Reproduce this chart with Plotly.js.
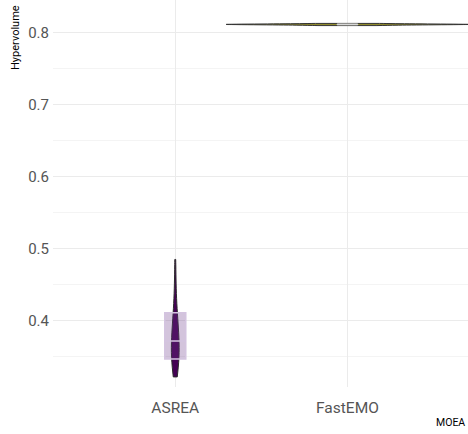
<!DOCTYPE html>
<html>
<head>
<meta charset="utf-8">
<script src="https://cdn.plot.ly/plotly-3.0.1.min.js"></script>
<style>html,body{margin:0;padding:0;background:#fff;}#chart{width:468px;height:434px;}</style>
</head>
<body>
<div id="chart"></div>
<script>
// Categories
var categories = ['ASREA', 'FastEMO'];
// Hypervolume samples
var asreaValues = [0.322, 0.326, 0.330, 0.334, 0.337, 0.340, 0.343, 0.346, 0.349, 0.352, 0.355, 0.358, 0.361, 0.364, 0.367, 0.370, 0.372, 0.375, 0.378, 0.381, 0.385, 0.389, 0.393, 0.398, 0.403, 0.409, 0.414, 0.421, 0.432, 0.447, 0.465, 0.485];
var fastemoValues = [0.8095, 0.8100, 0.8104, 0.8107, 0.8109, 0.8110, 0.8111, 0.8112, 0.8113, 0.8115, 0.8117, 0.8120, 0.8125];
// Box statistics (q1, median, q3)
var boxQ1 = [0.347, 0.8105];
var boxMedian = [0.372, 0.8111];
var boxQ3 = [0.411, 0.8117];
// Axis ticks
var yTicks = [0.4, 0.5, 0.6, 0.7, 0.8];
var yTickLabels = ['0.4', '0.5', '0.6', '0.7', '0.8'];

var traces = [
  {
    type: 'violin', x: asreaValues.map(function(){return categories[0];}), y: asreaValues,
    fillcolor: '#440154', line: {color: '#2b2b2b', width: 1}, width: 0.045,
    spanmode: 'hard', points: false, box: {visible: false}, meanline: {visible: false},
    scalemode: 'width', scalegroup: 'a', hoverinfo: 'skip', showlegend: false
  },
  {
    type: 'violin', x: fastemoValues.map(function(){return categories[1];}), y: fastemoValues,
    fillcolor: '#8f8a2c', line: {color: '#333333', width: 1}, width: 1.41,
    spanmode: 'hard', points: false, box: {visible: false}, meanline: {visible: false},
    scalemode: 'width', scalegroup: 'b', hoverinfo: 'skip', showlegend: false
  },
  {
    type: 'box', x: [categories[0]], q1: [boxQ1[0]], median: [boxMedian[0]], q3: [boxQ3[0]],
    lowerfence: [boxQ1[0]], upperfence: [boxQ3[0]],
    fillcolor: 'rgba(110,60,140,0.3)', line: {color: 'rgba(212,196,224,1)', width: 1.5},
    width: 0.122, whiskerwidth: 0, showlegend: false, hoverinfo: 'skip'
  },
  {
    type: 'box', x: [categories[1]], q1: [boxQ1[1]], median: [boxMedian[1]], q3: [boxQ3[1]],
    lowerfence: [boxQ1[1]], upperfence: [boxQ3[1]],
    fillcolor: 'rgba(205,205,205,0.9)', line: {color: 'rgba(215,215,215,1)', width: 1},
    width: 0.12, whiskerwidth: 0, showlegend: false, hoverinfo: 'skip'
  }
];

var layout = {
  width: 468, height: 434,
  margin: {l: 53, r: 0, t: 0, b: 47},
  paper_bgcolor: '#ffffff', plot_bgcolor: '#ffffff',
  violinmode: 'overlay', boxmode: 'overlay',
  showlegend: false,
  font: {family: 'Roboto, "Liberation Sans", sans-serif', color: '#4d4d4d'},
  xaxis: {
    type: 'category', categoryorder: 'array', categoryarray: categories,
    range: [-0.71, 1.70], showgrid: true, gridcolor: '#ebebeb', gridwidth: 1,
    zeroline: false, showline: false, ticks: '', ticklabelstandoff: 9,
    tickfont: {size: 15.5, color: '#555555'}, fixedrange: true
  },
  yaxis: {
    range: [0.308, 0.845], tickvals: yTicks, ticktext: yTickLabels,
    showgrid: true, gridcolor: '#ebebeb', gridwidth: 1,
    minor: {dtick: 0.05, tick0: 0.35, showgrid: true, gridcolor: '#f4f4f4', gridwidth: 1},
    zeroline: false, showline: false, ticks: '', ticklabelstandoff: 3,
    tickfont: {size: 15, color: '#555555'}
  },
  annotations: [
    {text: 'Hypervolume', xref: 'paper', yref: 'paper', x: -0.089, y: 0.902,
     xanchor: 'center', yanchor: 'middle', textangle: -90, showarrow: false,
     font: {size: 11, color: '#000000'}},
    {text: 'MOEA', xref: 'paper', yref: 'paper', x: 0.957, y: -0.093,
     xanchor: 'center', yanchor: 'middle', showarrow: false,
     font: {size: 10.5, color: '#000000'}}
  ]
};

Plotly.newPlot('chart', traces, layout, {displayModeBar: false, staticPlot: true});
</script>
</body>
</html>
